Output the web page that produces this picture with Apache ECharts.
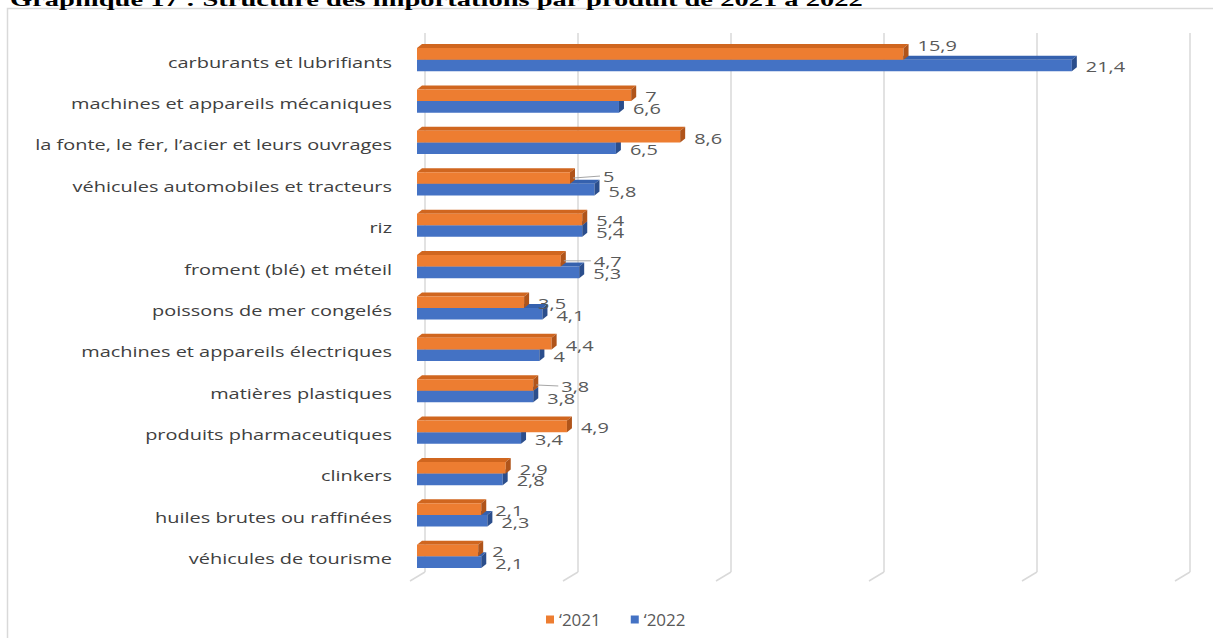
<!DOCTYPE html>
<html>
<head>
<meta charset="utf-8">
<title>Structure des importations par produit</title>
<script src="https://cdn.jsdelivr.net/npm/echarts@6/dist/echarts.min.js"></script>
<style>
  html, body { margin: 0; padding: 0; background: #fff; }
  #chart { width: 1213px; height: 638px; }
</style>
</head>
<body>
<div id="chart"></div>
<script>
  // données du graphique
  const categories = [
    'carburants et lubrifiants',
    'machines et appareils mécaniques',
    'la fonte, le fer, l’acier et leurs ouvrages',
    'véhicules automobiles et tracteurs',
    'riz',
    'froment (blé) et méteil',
    'poissons de mer congelés',
    'machines et appareils électriques',
    'matières plastiques',
    'produits pharmaceutiques',
    'clinkers',
    'huiles brutes ou raffinées',
    'véhicules de tourisme',
  ];
  const values2021 = [15.9, 7, 8.6, 5, 5.4, 4.7, 3.5, 4.4, 3.8, 4.9, 2.9, 2.1, 2];
  const values2022 = [21.4, 6.6, 6.5, 5.8, 5.4, 5.3, 4.1, 4, 3.8, 3.4, 2.8, 2.3, 2.1];
  const seriesNames = ['‘2021', '‘2022'];
  const gridTicks = [0, 5, 10, 15, 20, 25];
  const titleText = 'Graphique 17 : Structure des importations par produit de 2021 à 2022';

  // style
  const STRETCH = 1.33; // le texte de la figure d'origine est étiré en largeur
  const FONT = '"Open Sans", sans-serif';
  const colors = [
    { front: '#ED7D31', top: '#D0661F', side: '#B0541A' },
    { front: '#4472C4', top: '#3561AE', side: '#2B4E8C' },
  ];
  const DX = 5; // profondeur 3D des barres
  const DY = 4;
  // étiquettes déplacées à la main dans l'original (série 2021)
  const labelNudge = {
    'carburants et lubrifiants': { dx: 0, dy: -10, leader: false },
    'véhicules automobiles et tracteurs': { dx: 19, dy: -3, leader: true },
    'froment (blé) et méteil': { dx: 19, dy: -1, leader: true },
    'matières plastiques': { dx: 14, dy: 0, leader: true },
  };

  const fmt = (v) => String(v).replace('.', ',');

  const makeBarSeries = (name, values, sIdx) => ({
    name: name,
    type: 'custom',
    xAxisIndex: 0,
    yAxisIndex: 0,
    z: 3 + (1 - sIdx), // 2021 dessinée au-dessus de 2022
    itemStyle: { color: colors[sIdx].front },
    data: values.map((v, i) => [v, i]),
    renderItem: (params, api) => {
      const v = api.value(0);
      const idx = api.value(1);
      const start = api.coord([0, idx]);
      const end = api.coord([v, idx]);
      const band = api.size([0, 1])[1];
      const h = band * 0.28;
      const x0 = start[0];
      const x1 = end[0];
      const y0 = sIdx === 0 ? start[1] - h : start[1];
      const c = colors[sIdx];
      const children = [
        {
          type: 'polygon',
          shape: { points: [[x0, y0], [x0 + DX, y0 - DY], [x1 + DX, y0 - DY], [x1, y0]] },
          style: { fill: c.top },
        },
        {
          type: 'rect',
          shape: { x: x0, y: y0, width: x1 - x0, height: h },
          style: { fill: c.front },
        },
        {
          type: 'polygon',
          shape: { points: [[x1, y0], [x1 + DX, y0 - DY], [x1 + DX, y0 + h - DY], [x1, y0 + h]] },
          style: { fill: c.side },
        },
      ];
      const nudge = sIdx === 0 ? labelNudge[categories[idx]] : null;
      const lx = x1 + 14 + (nudge ? nudge.dx : 0);
      const ly = y0 + h / 2 + 1 + (nudge ? nudge.dy : 0);
      if (nudge && nudge.leader) {
        children.push({
          type: 'line',
          shape: { x1: x1 + 3, y1: y0 + h / 2, x2: lx - 3, y2: ly },
          style: { stroke: '#a6a6a6', lineWidth: 1 },
        });
      }
      children.push({
        type: 'text',
        x: lx,
        y: ly,
        scaleX: STRETCH,
        style: {
          text: fmt(v),
          font: '15px ' + FONT,
          fill: '#595959',
          align: 'left',
          verticalAlign: 'middle',
        },
      });
      return { type: 'group', children: children };
    },
  });

  const myChart = echarts.init(document.getElementById('chart'), null, { renderer: 'svg' });

  myChart.setOption({
    animation: false,
    backgroundColor: '#fff',
    graphic: [
      {
        type: 'rect',
        shape: { x: 7.5, y: 8.5, width: 1230, height: 660 },
        style: { fill: 'none', stroke: '#d9d9d9', lineWidth: 1.5 },
        z: 0,
      },
      {
        type: 'text',
        x: 10,
        y: 9,
        scaleX: 1.5,
        style: {
          text: titleText,
          font: 'bold 19px "Liberation Serif", serif',
          fill: '#000',
          verticalAlign: 'bottom',
        },
      },
    ],
    legend: {
      data: seriesNames,
      left: 541,
      top: 606,
      icon: 'rect',
      itemWidth: 8,
      itemHeight: 8,
      itemGap: 30,
      textStyle: { fontFamily: FONT, fontSize: 17, color: '#595959' },
    },
    grid: [
      { left: 417, right: 31, top: 39, bottom: 61 },
      { left: 425, right: 23, top: 33, bottom: 66 },
    ],
    xAxis: [
      { gridIndex: 0, type: 'value', min: 0, max: 25, show: false },
      {
        gridIndex: 1,
        type: 'value',
        min: 0,
        max: 25,
        interval: 5,
        axisLine: { show: false },
        axisTick: { show: false },
        axisLabel: { show: false },
        splitLine: { show: true, lineStyle: { color: '#d9d9d9', width: 1.5 } },
      },
    ],
    yAxis: [
      {
        gridIndex: 0,
        type: 'category',
        inverse: true,
        data: categories,
        axisLine: { show: false },
        axisTick: { show: false },
        axisLabel: { show: false },
      },
      { gridIndex: 1, type: 'value', min: 0, max: 1, show: false },
    ],
    series: [
      {
        // pieds des lignes de quadrillage (plancher 3D)
        name: 'plancher',
        type: 'custom',
        xAxisIndex: 1,
        yAxisIndex: 1,
        z: 1,
        silent: true,
        data: gridTicks.map((t) => [t]),
        renderItem: (params, api) => {
          const p = api.coord([api.value(0), 0]);
          return {
            type: 'line',
            shape: { x1: p[0], y1: p[1], x2: p[0] - 15, y2: p[1] + 9 },
            style: { stroke: '#d9d9d9', lineWidth: 1.5 },
          };
        },
      },
      {
        // libellés des catégories
        name: 'libelles',
        type: 'custom',
        xAxisIndex: 0,
        yAxisIndex: 0,
        silent: true,
        data: categories.map((c, i) => [0, i]),
        renderItem: (params, api) => {
          const p = api.coord([0, api.value(1)]);
          return {
            type: 'text',
            x: p[0] - 25,
            y: p[1] + 2,
            scaleX: STRETCH,
            style: {
              text: categories[api.value(1)],
              font: '15px ' + FONT,
              fill: '#404040',
              align: 'right',
              verticalAlign: 'middle',
            },
          };
        },
      },
      makeBarSeries(seriesNames[1], values2022, 1),
      makeBarSeries(seriesNames[0], values2021, 0),
    ],
  });

  window.addEventListener('resize', function () {
    myChart && myChart.resize();
  });
</script>
</body>
</html>
